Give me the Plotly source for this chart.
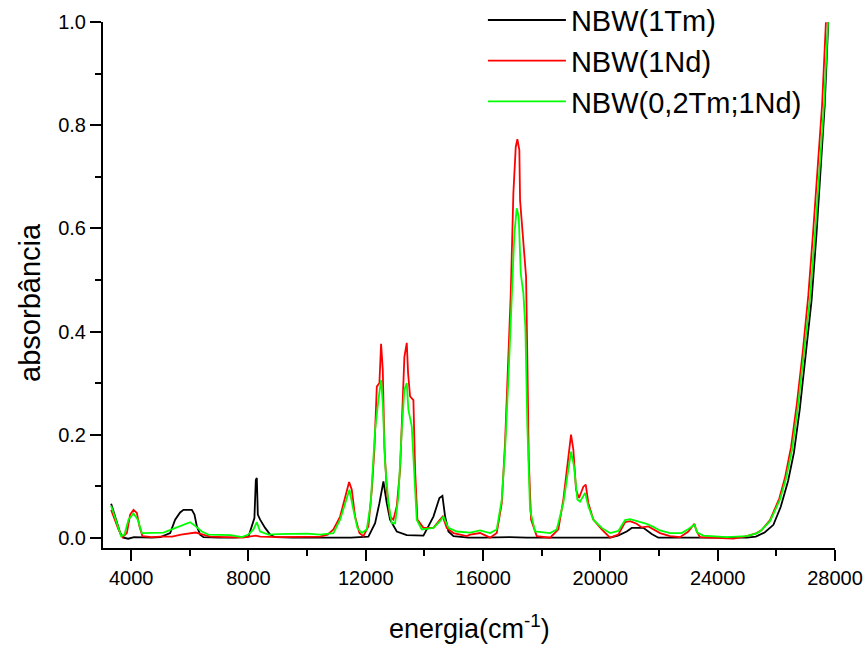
import plotly.graph_objects as go

# Absorption spectra of the NBW glasses: energy (cm^-1) vs absorbance
series_names = ["NBW(1Tm)", "NBW(1Nd)", "NBW(0,2Tm;1Nd)"]
series_colors = ["#000000", "#ff0000", "#00ff00"]

energia_tm = [
    3318, 3420, 3530, 3625, 3737, 3900, 4100, 4365, 4700, 5000, 5330, 5500,
    5670, 5783, 6069, 6159, 6240, 6352, 6466, 7000, 7500, 7999, 8114, 8203,
    8251, 8285, 8319, 8398, 8568, 8739, 8909, 9500, 10500, 11500, 12090,
    12318, 12465, 12602, 12716, 12829, 13057, 13398, 13966, 14307, 14511,
    14614, 14705, 14819, 14990, 15500, 16000, 16900, 17500, 18500, 19000,
    19600, 20329, 20600, 20898, 21069, 21466, 21750, 21977, 23000, 24000,
    25000, 25300, 25600, 25900, 26150, 26400, 26600, 26800, 27000, 27200,
    27370, 27520, 27650, 27770,
]
abs_tm = [
    0.066, 0.048, 0.025, 0.009, 0.000, -0.002, 0.001, 0.000, 0.000, 0.001,
    0.009, 0.035, 0.049, 0.054, 0.054, 0.045, 0.022, 0.006, 0.001, 0.000,
    0.000, 0.002, 0.022, 0.038, 0.112, 0.116, 0.045, 0.035, 0.019, 0.006,
    0.001, 0.000, 0.000, 0.000, 0.002, 0.028, 0.067, 0.109, 0.067, 0.035,
    0.012, 0.005, 0.004, 0.041, 0.077, 0.081, 0.041, 0.012, 0.003, 0.000,
    0.000, 0.001, 0.000, 0.000, 0.001, 0.001, 0.000, 0.004, 0.012, 0.019,
    0.019, 0.007, 0.000, 0.000, 0.000, 0.000, 0.002, 0.010, 0.025, 0.060,
    0.110, 0.165, 0.250, 0.350, 0.460, 0.590, 0.720, 0.840, 1.000,
]

energia_nd = [
    3318, 3450, 3567, 3703, 3853, 3966, 4080, 4194, 4283, 4385, 4700, 5000,
    5400, 5700, 6000, 6200, 6450, 6700, 7200, 7800, 8250, 8400, 9000, 10000,
    10443, 10700, 10897, 11125, 11295, 11432, 11523, 11636, 11783, 11920,
    12090, 12205, 12294, 12376, 12465, 12522, 12580, 12635, 12716, 12829,
    12942, 13057, 13170, 13262, 13317, 13398, 13443, 13511, 13624, 13682,
    13760, 13966, 14307, 14534, 14625, 14761, 14990, 15444, 15557, 15898,
    16239, 16466, 16637, 16750, 16862, 16944, 17033, 17114, 17169, 17237,
    17261, 17374, 17466, 17510, 17558, 17636, 17830, 18284, 18567, 18737,
    18908, 18999, 19078, 19170, 19272, 19419, 19501, 19590, 19760, 20046,
    20329, 20612, 20840, 21011, 21238, 21409, 21636, 21806, 22034, 22375,
    22716, 22999, 23204, 23284, 23398, 23739, 24534, 24989, 25330, 25500,
    25784, 26100, 26300, 26500, 26700, 26900, 27090, 27250, 27420, 27560,
    27690,
]
abs_nd = [
    0.054, 0.035, 0.016, 0.001, 0.009, 0.045, 0.054, 0.048, 0.022, 0.003,
    0.001, 0.002, 0.002, 0.006, 0.008, 0.010, 0.006, 0.002, 0.001, 0.000,
    0.004, 0.002, 0.001, 0.001, 0.002, 0.006, 0.016, 0.041, 0.080, 0.108,
    0.093, 0.041, 0.009, 0.003, 0.022, 0.093, 0.171, 0.293, 0.300, 0.376,
    0.326, 0.177, 0.093, 0.041, 0.035, 0.061, 0.132, 0.274, 0.351, 0.378,
    0.319, 0.274, 0.267, 0.132, 0.035, 0.019, 0.019, 0.035, 0.041, 0.019,
    0.009, 0.003, 0.006, 0.009, 0.000, 0.009, 0.067, 0.184, 0.345, 0.474,
    0.668, 0.758, 0.773, 0.752, 0.655, 0.565, 0.506, 0.345, 0.151, 0.035,
    0.003, 0.000, 0.016, 0.074, 0.151, 0.200, 0.171, 0.093, 0.077, 0.099,
    0.103, 0.067, 0.035, 0.016, 0.000, 0.006, 0.030, 0.032, 0.027, 0.020,
    0.022, 0.016, 0.009, 0.003, 0.001, 0.012, 0.027, 0.012, 0.001, 0.000,
    -0.002, 0.003, 0.009, 0.015, 0.034, 0.076, 0.118, 0.175, 0.260, 0.360,
    0.470, 0.590, 0.720, 0.840, 1.000,
]

energia_tmnd = [
    3318, 3513, 3659, 3772, 3908, 4080, 4228, 4365, 4477, 4800, 5100, 5387,
    5670, 6011, 6182, 6410, 6637, 7000, 7400, 7774, 8000, 8170, 8284, 8398,
    8681, 9000, 9500, 10000, 10443, 10897, 11125, 11295, 11443, 11579,
    11715, 11863, 12034, 12170, 12318, 12430, 12522, 12580, 12659, 12772,
    12886, 13000, 13113, 13228, 13317, 13398, 13454, 13568, 13647, 13738,
    13909, 14307, 14534, 14648, 14819, 15103, 15557, 15898, 16239, 16466,
    16637, 16750, 16862, 16978, 17067, 17148, 17216, 17284, 17374, 17442,
    17510, 17602, 17772, 18284, 18511, 18737, 18908, 18999, 19102, 19215,
    19306, 19477, 19590, 19760, 20046, 20329, 20612, 20840, 21011, 21295,
    21580, 21806, 22034, 22375, 22773, 22999, 23204, 23306, 23511, 24307,
    24989, 25300, 25443, 25784, 26125, 26330, 26534, 26739, 26943, 27148,
    27318, 27489, 27625, 27761,
]
abs_tmnd = [
    0.062, 0.028, 0.003, 0.006, 0.035, 0.047, 0.035, 0.009, 0.009, 0.010,
    0.010, 0.016, 0.023, 0.030, 0.023, 0.012, 0.006, 0.005, 0.005, 0.001,
    0.006, 0.016, 0.030, 0.012, 0.006, 0.007, 0.007, 0.008, 0.006, 0.009,
    0.035, 0.067, 0.093, 0.054, 0.019, 0.009, 0.016, 0.067, 0.209, 0.267,
    0.306, 0.261, 0.145, 0.067, 0.028, 0.028, 0.080, 0.209, 0.287, 0.300,
    0.248, 0.216, 0.132, 0.035, 0.016, 0.019, 0.032, 0.041, 0.019, 0.012,
    0.010, 0.014, 0.009, 0.016, 0.074, 0.171, 0.306, 0.474, 0.590, 0.639,
    0.623, 0.513, 0.474, 0.409, 0.216, 0.054, 0.012, 0.009, 0.016, 0.067,
    0.138, 0.167, 0.138, 0.074, 0.070, 0.087, 0.061, 0.035, 0.019, 0.009,
    0.013, 0.034, 0.036, 0.032, 0.027, 0.021, 0.014, 0.009, 0.009, 0.017,
    0.025, 0.010, 0.004, 0.001, 0.003, 0.008, 0.012, 0.032, 0.074, 0.115,
    0.170, 0.255, 0.355, 0.465, 0.590, 0.720, 0.840, 1.000,
]

x_range = [3040, 28000]
y_range = [-0.02, 1.0005]
x_major = [4000, 8000, 12000, 16000, 20000, 24000, 28000]
x_minor = [6000, 10000, 14000, 18000, 22000, 26000]
y_major = [0.0, 0.2, 0.4, 0.6, 0.8, 1.0]
y_minor = [0.1, 0.3, 0.5, 0.7, 0.9]
x_title = "energia(cm<sup>-1</sup>)"
y_title = "absorbância"

fig = go.Figure()
for xs, ys, name, color in zip(
    [energia_tm, energia_nd, energia_tmnd],
    [abs_tm, abs_nd, abs_tmnd],
    series_names,
    series_colors,
):
    fig.add_trace(go.Scatter(x=xs, y=ys, mode="lines", name=name,
                             line=dict(color=color, width=1.8)))

axis_common = dict(
    showline=True, linecolor="black", linewidth=2, mirror=False,
    ticks="outside", ticklen=11, tickwidth=2, tickcolor="black",
    showgrid=False, zeroline=False, automargin=False,
    tickfont=dict(size=20, color="black"),
)

fig.update_xaxes(
    range=x_range, tickmode="array", tickvals=x_major,
    ticktext=[str(v) for v in x_major],
    minor=dict(tickmode="array", tickvals=x_minor, ticks="outside",
               ticklen=6, tickwidth=2, tickcolor="black", showgrid=False),
    **axis_common,
)
fig.update_yaxes(
    range=y_range, tickmode="array", tickvals=y_major,
    ticktext=[f"{v:.1f}" for v in y_major],
    minor=dict(tickmode="array", tickvals=y_minor, ticks="outside",
               ticklen=6, tickwidth=2, tickcolor="black", showgrid=False),
    **axis_common,
)

# Axis titles placed as annotations so their position can be set exactly
fig.add_annotation(text=x_title, xref="paper", yref="paper", x=0.5, y=-0.150,
                   xanchor="center", yanchor="middle", showarrow=False,
                   font=dict(size=27, color="black"))
fig.add_annotation(text=y_title, xref="paper", yref="paper", x=-0.0997, y=0.466,
                   xanchor="center", yanchor="middle", textangle=-90,
                   showarrow=False, font=dict(size=29, color="black"))

fig.update_layout(
    width=864, height=645,
    margin=dict(l=103, r=29, t=22, b=97, autoexpand=False),
    paper_bgcolor="white", plot_bgcolor="white",
    font=dict(family="Liberation Sans, Arial, sans-serif", color="black"),
    showlegend=True,
    legend=dict(
        x=0.519, y=1.052, xanchor="left", yanchor="top",
        font=dict(size=29, color="black"),
        bgcolor="rgba(0,0,0,0)", itemwidth=78,
    ),
)

fig.write_html("out.html")
